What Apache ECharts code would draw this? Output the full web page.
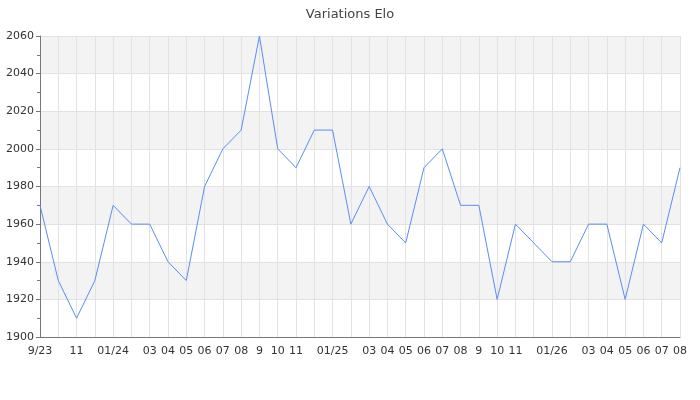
<!DOCTYPE html>
<html>
<head>
<meta charset="utf-8">
<style>
  html, body { margin: 0; padding: 0; background: #fff; }
  #chart { width: 700px; height: 400px; }
</style>
<script src="https://cdn.jsdelivr.net/npm/echarts@6/dist/echarts.min.js"></script>
</head>
<body>
<div id="chart"></div>
<script>
// one point per month, Sep 2023 .. Aug 2026
const months = [
  '9/23', '', '11', '', '01/24', '', '03', '04', '05', '06', '07', '08',
  '9', '10', '11', '', '01/25', '', '03', '04', '05', '06', '07', '08',
  '9', '10', '11', '', '01/26', '', '03', '04', '05', '06', '07', '08'
]
const elo = [
  1970, 1930, 1910, 1930, 1970, 1960, 1960, 1940, 1930, 1980, 2000, 2010,
  2060, 2000, 1990, 2010, 2010, 1960, 1980, 1960, 1950, 1990, 2000, 1970,
  1970, 1920, 1960, 1950, 1940, 1940, 1960, 1960, 1920, 1960, 1950, 1990
]

const chart = echarts.init(document.getElementById('chart'))
chart.setOption({
  animation: false,
  title: {
    text: 'Variations Elo',
    left: 'center',
    top: 3,
    textStyle: {
      fontFamily: 'DejaVu Sans',
      fontSize: 13,
      fontWeight: 'normal',
      color: '#444'
    }
  },
  grid: {
    left: 40,
    right: 20,
    top: 36,
    bottom: 63
  },
  xAxis: {
    type: 'category',
    boundaryGap: false,
    data: months,
    axisLine: { lineStyle: { color: '#777' } },
    axisTick: { show: false },
    axisLabel: {
      interval: 0,
      color: '#333',
      fontFamily: 'DejaVu Sans',
      fontSize: 11,
      margin: 9
    },
    splitLine: {
      show: true,
      interval: 0,
      lineStyle: { color: '#e2e2e2' }
    }
  },
  yAxis: {
    type: 'value',
    min: 1900,
    max: 2060,
    interval: 20,
    axisLine: { show: true, lineStyle: { color: '#777' } },
    axisTick: { show: true, length: 4, lineStyle: { color: '#777' } },
    minorTick: { show: true, splitNumber: 2, length: 3, lineStyle: { color: '#777' } },
    axisLabel: {
      color: '#333',
      fontFamily: 'DejaVu Sans',
      fontSize: 11,
      margin: 6,
      formatter: v => String(v)
    },
    splitLine: { lineStyle: { color: '#e2e2e2' } },
    splitArea: {
      show: true,
      areaStyle: { color: ['#ffffff', '#f3f3f3'] }
    }
  },
  series: [
    {
      type: 'line',
      data: elo,
      showSymbol: false,
      lineStyle: { width: 1, color: '#5b8def' },
      itemStyle: { color: '#5b8def' }
    }
  ]
})
</script>
</body>
</html>
